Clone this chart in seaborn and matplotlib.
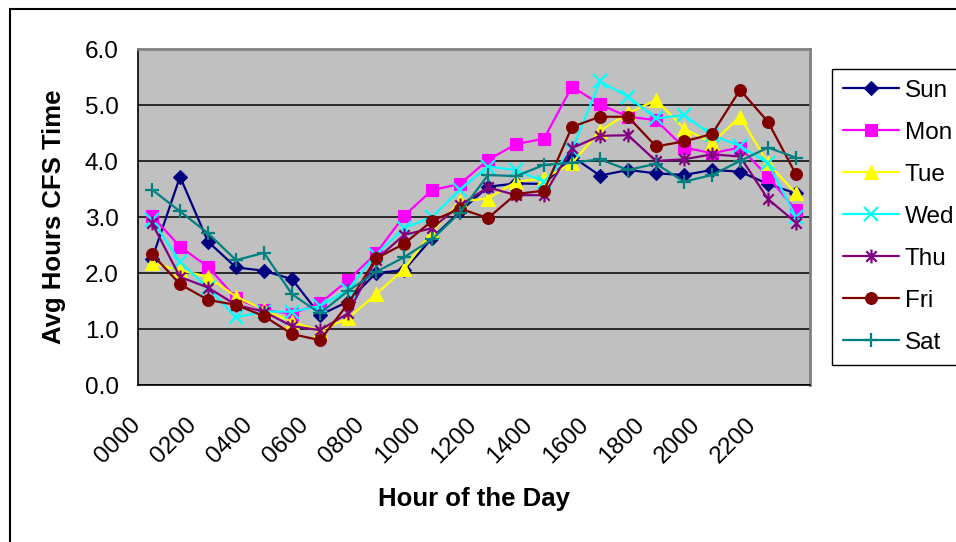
import matplotlib
matplotlib.use("Agg")
import matplotlib.pyplot as plt
import seaborn as sns
import pandas as pd
from matplotlib.path import Path
from matplotlib.transforms import ScaledTranslation
from matplotlib.patches import Rectangle

# Average CFS hours by hour of day, one series per weekday
hours = ["0000", "0100", "0200", "0300", "0400", "0500", "0600", "0700",
         "0800", "0900", "1000", "1100", "1200", "1300", "1400", "1500",
         "1600", "1700", "1800", "1900", "2000", "2100", "2200", "2300"]
days = ["Sun", "Mon", "Tue", "Wed", "Thu", "Fri", "Sat"]

sun = [2.25, 3.72, 2.56, 2.10, 2.04, 1.89, 1.25, 1.49, 2.00, 2.05, 2.62, 3.10,
       3.54, 3.60, 3.59, 4.08, 3.74, 3.84, 3.78, 3.75, 3.84, 3.81, 3.59, 3.42]
mon = [3.02, 2.47, 2.11, 1.55, 1.34, 1.27, 1.46, 1.87, 2.35, 3.02, 3.48, 3.59,
       4.02, 4.30, 4.40, 5.33, 5.01, 4.79, 4.73, 4.24, 4.14, 4.24, 3.72, 3.12]
tue = [2.17, 2.05, 1.93, 1.58, 1.34, 1.13, 0.97, 1.19, 1.62, 2.07, 2.74, 3.28,
       3.33, 3.63, 3.69, 3.96, 4.54, 4.85, 5.09, 4.58, 4.32, 4.79, 3.96, 3.42]
wed = [2.95, 2.20, 1.73, 1.21, 1.31, 1.31, 1.41, 1.70, 2.33, 2.80, 3.00, 3.49,
       3.90, 3.84, 3.63, 4.20, 5.42, 5.15, 4.76, 4.82, 4.46, 4.27, 3.96, 3.00]
thu = [2.89, 1.93, 1.74, 1.43, 1.31, 1.05, 0.98, 1.28, 2.24, 2.68, 2.80, 3.21,
       3.53, 3.39, 3.39, 4.23, 4.45, 4.46, 4.00, 4.03, 4.12, 4.08, 3.32, 2.90]
fri = [2.34, 1.80, 1.52, 1.43, 1.23, 0.91, 0.80, 1.45, 2.26, 2.52, 2.93, 3.15,
       2.98, 3.41, 3.47, 4.61, 4.79, 4.79, 4.26, 4.35, 4.48, 5.27, 4.70, 3.76]
sat = [3.49, 3.10, 2.71, 2.23, 2.36, 1.62, 1.28, 1.68, 2.02, 2.28, 2.60, 3.08,
       3.75, 3.73, 3.93, 3.97, 4.03, 3.84, 3.95, 3.63, 3.75, 4.00, 4.24, 4.06]

series = dict(zip(days, [sun, mon, tue, wed, thu, fri, sat]))

colors = {"Sun": "#000080", "Mon": "#FF00FF", "Tue": "#FFFF00", "Wed": "#00FFFF",
          "Thu": "#800080", "Fri": "#800000", "Sat": "#008080"}

# asterisk: vertical bar crossed by an X
asterisk = Path([(0, -1), (0, 1), (-0.75, -0.75), (0.75, 0.75), (-0.75, 0.75), (0.75, -0.75)],
                [Path.MOVETO, Path.LINETO, Path.MOVETO, Path.LINETO, Path.MOVETO, Path.LINETO])
markers = {"Sun": "D", "Mon": "s", "Tue": "^", "Wed": "x", "Thu": asterisk, "Fri": "o", "Sat": "+"}
msizes = {"Sun": 7.5, "Mon": 8, "Tue": 9.5, "Wed": 10, "Thu": 10, "Fri": 8.5, "Sat": 10}

sns.set_style("white")
plt.rcParams["font.family"] = ["Liberation Sans", "DejaVu Sans"]
plt.rcParams["text.color"] = "black"
plt.rcParams["axes.labelcolor"] = "black"
plt.rcParams["xtick.color"] = "black"
plt.rcParams["ytick.color"] = "black"

W, H = 956, 542
fig = plt.figure(figsize=(W / 100, H / 100), dpi=100)
fig.patch.set_facecolor("white")

left, right, top, bottom = 138, 810, 49, 385
ax = fig.add_axes([left / W, 1 - bottom / H, (right - left) / W, (bottom - top) / H])
ax.set_facecolor("#C0C0C0")

df = pd.DataFrame({"hour": list(range(len(hours))) * len(days),
                   "day": [d for d in days for _ in hours],
                   "value": [v for d in days for v in series[d]]})

for z, d in enumerate(days):
    sub = df[df["day"] == d]
    unfilled = d in ("Wed", "Thu", "Sat")
    sns.lineplot(data=sub, x="hour", y="value", ax=ax, color=colors[d], label=d,
                 linewidth=1.6, marker=markers[d], markersize=msizes[d],
                 markerfacecolor="none" if unfilled else colors[d],
                 markeredgecolor=colors[d], markeredgewidth=1.6 if unfilled else 0.8,
                 zorder=3 + z)

ax.set_xlim(-0.5, len(hours) - 0.5)
ax.set_ylim(0, 6)
ax.set_yticks(range(0, 7))
ax.set_yticklabels([f"{v:.1f}" for v in range(0, 7)])
ax.yaxis.grid(True, color="black", linewidth=1.1)
ax.set_axisbelow(True)

ax.set_xticks(range(0, len(hours), 2))
ax.set_xticklabels(hours[::2])
ax.set_xticks([i - 0.5 for i in range(len(hours) + 1)], minor=True)
ax.tick_params(axis="x", which="major", length=0, pad=26, labelsize=17.5, labelcolor="black")
ax.tick_params(axis="x", which="minor", length=6, width=1, color="black", direction="out")
ax.tick_params(axis="y", length=5, width=1, color="black", direction="out", pad=9,
               labelsize=17.5, labelcolor="black")
shift = ScaledTranslation(-0.15, 0, fig.dpi_scale_trans)
for lab in ax.get_xticklabels():
    lab.set_rotation(45)
    lab.set_ha("right")
    lab.set_va("center")
    lab.set_rotation_mode("anchor")
    lab.set_transform(lab.get_transform() + shift)

for s in ("left", "bottom"):
    ax.spines[s].set_color("black")
    ax.spines[s].set_linewidth(1.2)
for s in ("top", "right"):
    ax.spines[s].set_color("#808080")
    ax.spines[s].set_linewidth(2)

ax.set_xlabel("Hour of the Day", fontsize=18.5, fontweight="bold", color="black")
ax.xaxis.set_label_coords(0.5, -(499 - bottom) / (bottom - top))
ax.xaxis.label.set_va("center")
ax.set_ylabel("Avg Hours CFS Time", fontsize=18.5, fontweight="bold", color="black")
ax.yaxis.set_label_coords(-(left - 54) / (right - left), 0.5)
ax.yaxis.label.set_va("center")

leg = ax.legend(loc="upper left", bbox_to_anchor=(832 / W, 1 - 69 / H),
                bbox_transform=fig.transFigure, fontsize=17.5, frameon=True,
                fancybox=False, shadow=False, borderpad=0.45, labelspacing=0.82,
                handlelength=2.3, handletextpad=0.25, borderaxespad=0)
leg.get_frame().set_edgecolor("black")
leg.get_frame().set_linewidth(1)
leg.get_frame().set_facecolor("white")
leg.get_frame().set_alpha(1)
for t in leg.get_texts():
    t.set_color("black")

# outer chart border
fig.add_artist(Rectangle((9.5 / W, -0.1), 1.2, 1.1 - 8.5 / H, transform=fig.transFigure,
                         fill=False, edgecolor="black", linewidth=1.5))

fig.savefig("out.png", dpi=100)
